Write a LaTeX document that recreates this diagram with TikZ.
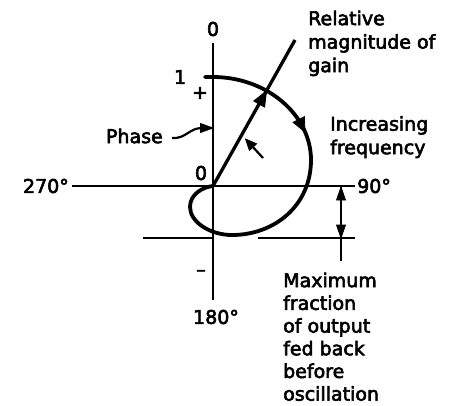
\documentclass[tikz,border=0pt]{standalone}
\usepackage{fontspec}
\setmainfont{DejaVu Sans}[FakeBold=3]
\usetikzlibrary{arrows.meta}
\begin{document}
\begin{tikzpicture}[x=1pt,y=-1pt,
  axis/.style={line width=2.7pt},
  thinline/.style={line width=2.2pt},
  curve/.style={line width=3.8pt, line cap=round, line join=round},
  head/.style={fill=black, draw=black, line width=0.8pt, line join=miter},
  lbl/.style={font=\fontsize{19}{23}\selectfont, inner sep=0pt},
  txt/.style={font=\fontsize{19}{23.5}\selectfont, inner sep=0pt, align=left, anchor=north west}]
\useasboundingbox (0,0) rectangle (449,405);
% axes
\coordinate (O) at (213,186);
\coordinate (Vtop) at (213,43);
\coordinate (Vbot) at (213,300);
\coordinate (Hl) at (72,186);
\coordinate (Hr) at (355,186);
\draw[axis] (Vtop) -- (Vbot);
\draw[axis] (Hl) -- (Hr);
% lower reference line
\coordinate (L1) at (143,238);
\coordinate (L2) at (213,238);
\coordinate (L3) at (258,238);
\coordinate (L4) at (355,238);
\draw[thinline] (L1) -- (L2);
\draw[thinline] (L3) -- (L4);
% axis labels
\node[lbl] (zero) at (213,29) {0};
\node[lbl] (one) at (180,77) {1};
\node[lbl] (plus) at (200,93) {+};
\node[lbl] (orig) at (201,173) {0};
\node[lbl] (minus) at (201,273) {–};
\node[lbl, anchor=east] (d270) at (69,186) {270°};
\node[lbl, anchor=west] (d90) at (357,186) {90°};
\node[lbl] (d180) at (216,317) {180°};
% gain locus
\coordinate (T) at (205,77);
\coordinate (A) at (213,77);
\draw[curve] (T) -- (A) .. controls (267,77) and (311,115) .. (311,160)
  .. controls (311,205) and (275,235) .. (232,235)
  .. controls (210,235) and (190,222) .. (190,207)
  .. controls (190,194) and (203,187) .. (O);
% arrowhead on locus
\fill[head] (305,132) -- (304.4,116.7) -- (293.1,122.3) -- cycle;
% gain vector
\coordinate (G) at (295,40);
\draw[line width=3.3pt] (O) -- (G);
\fill[head] (266.5,91) -- (264.6,107.1) -- (253.7,101) -- cycle;
% phase angle arrow
\coordinate (pa) at (263,158);
\coordinate (pb) at (253,147.1);
\draw[thinline] (pa) -- (pb);
\fill[head] (245.5,139) -- (256.6,143.8) -- (249.4,150.4) -- cycle;
% Phase label and leader
\node[lbl, anchor=east] (phase) at (163,136) {Phase};
\coordinate (la) at (172,138);
\coordinate (lb) at (202,128);
\draw[thinline] (la) .. controls (186,139) and (189,128) .. (lb);
\fill[head] (213,128) -- (200.5,123.5) -- (200.5,132.5) -- cycle;
% double arrow
\coordinate (da) at (341,186);
\coordinate (db) at (341,238);
\coordinate (dc) at (341,261);
\draw[thinline] (da) -- (dc);
\fill[head] (341,187) -- (336.5,200) -- (345.5,200) -- cycle;
\fill[head] (341,238) -- (336.5,225) -- (345.5,225) -- cycle;
% texts
\node[txt] (rel) at (308,10.5) {Relative\\magnitude of\\gain};
\node[txt] (inc) at (330,116) {Increasing\\frequency};
\node[txt, font=\fontsize{19}{22.7}\selectfont] (max) at (283,272.5) {Maximum\\fraction\\of output\\fed back\\before\\oscillation};
\end{tikzpicture}
\end{document}
